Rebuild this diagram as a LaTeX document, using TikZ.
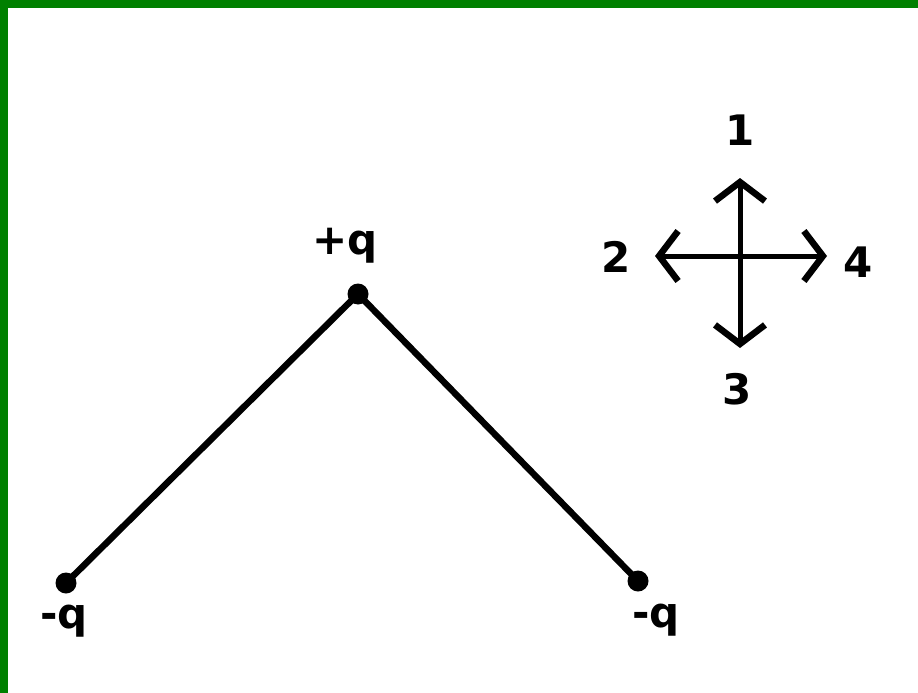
\documentclass[tikz,border=0pt]{standalone}
\usepackage{fontspec}
\newfontfamily\labfont{DejaVu Sans}[BoldFont={DejaVu Sans Bold}]
\usetikzlibrary{arrows.meta}
\definecolor{bordergreen}{HTML}{008000}
\tikzset{
  lab/.style={font=\labfont\bfseries\fontsize{42}{42}\selectfont, anchor=base, inner sep=0pt, text=black},
  charge/.style={circle, fill=black, minimum size=21pt, inner sep=0pt},
  rod/.style={line width=6.5pt, black},
  dirarrow/.style={line width=5pt, black, -{Straight Barb[length=19pt, width=50pt, line width=6.5pt]}}
}
\begin{document}
\begin{tikzpicture}[x=1pt, y=-1pt]
\useasboundingbox (0,0) rectangle (918,693);
\fill[white] (0,0) rectangle (918,693);
\fill[bordergreen] (0,0) rectangle (918,8);
\fill[bordergreen] (0,0) rectangle (8,693);
% charges
\node[charge] (top) at (358,294) {};
\node[charge] (left) at (66,583) {};
\node[charge] (right) at (638,581) {};
\draw[rod] (left.center) -- (top.center) -- (right.center);
\node[lab] (ptop) at (345,254) {+q};
\node[lab] (pleft) at (64,628) {-q};
\node[lab] (pright) at (656,627) {-q};
% direction cross
\coordinate (c) at (740,256);
\coordinate (d1) at (740,178);
\coordinate (d3) at (740,348);
\coordinate (d2) at (655,256);
\coordinate (d4) at (827,256);
\draw[dirarrow] (c) -- (d1);
\draw[dirarrow] (c) -- (d3);
\draw[dirarrow] (c) -- (d2);
\draw[dirarrow] (c) -- (d4);
\node[lab] (l1) at (740,145) {1};
\node[lab] (l2) at (616,272) {2};
\node[lab] (l3) at (737,404) {3};
\node[lab] (l4) at (858,277) {4};
\end{tikzpicture}
\end{document}
